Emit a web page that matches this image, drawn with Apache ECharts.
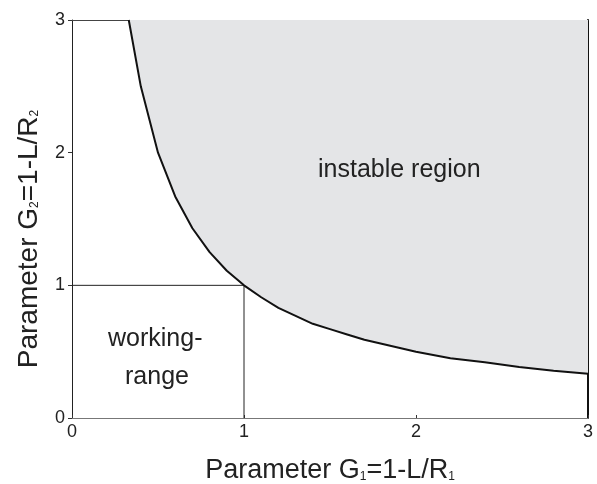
<!DOCTYPE html>
<html>
<head>
<meta charset="utf-8">
<script src="https://cdn.jsdelivr.net/npm/echarts@6/dist/echarts.min.js"></script>
<style>
  html, body { margin: 0; padding: 0; background: #fff; }
  #chart { width: 597px; height: 484px; }
</style>
</head>
<body>
<div id="chart"></div>
<script>
// stability boundary G1*G2 = 1
var g1 = [0.33, 0.4, 0.5, 0.6, 0.7, 0.8, 0.9, 1.0, 1.1, 1.2, 1.3, 1.4, 1.5, 1.6, 1.7, 1.8, 1.9, 2.0, 2.2, 2.4, 2.6, 2.8, 3.0];
var g2 = [3.0, 2.5, 2.0, 1.67, 1.43, 1.25, 1.11, 1.0, 0.91, 0.83, 0.77, 0.71, 0.67, 0.63, 0.59, 0.56, 0.53, 0.5, 0.45, 0.42, 0.385, 0.357, 0.333];
// working range box corner
var boxX = [0, 1, 1];
var boxY = [1, 1, 0];

var font = 'Liberation Sans, Arial, sans-serif';
var curve = g1.map(function (x, i) { return [x, g2[i]]; });
var box = boxX.map(function (x, i) { return [x, boxY[i]]; });

var chart = echarts.init(document.getElementById('chart'));
chart.setOption({
  animation: false,
  grid: { left: 72, right: 9, top: 20, bottom: 66, outerBoundsMode: 'none', containLabel: false },
  xAxis: [{
    type: 'value', min: 0, max: 3, interval: 1,
    axisLine: { lineStyle: { color: '#777', width: 1 } },
    axisTick: { inside: true, length: 3, lineStyle: { color: '#333' } },
    splitLine: { show: false },
    axisLabel: { color: '#222', fontSize: 18, fontFamily: font, margin: 5 },
    name: 'Parameter G{s|1}=1-L/R{s|1}',
    nameLocation: 'middle',
    nameGap: 39,
    nameTextStyle: {
      color: '#222', fontSize: 27, fontFamily: font,
      rich: { s: { fontSize: 12, fontFamily: font, color: '#222', padding: [12, 0, 0, 0] } }
    }
  }, {
    type: 'value', min: 0, max: 3, position: 'top',
    axisLine: { show: true, onZero: false, lineStyle: { color: '#444', width: 1 } },
    axisTick: { show: false }, axisLabel: { show: false }, splitLine: { show: false }
  }],
  yAxis: [{
    type: 'value', min: 0, max: 3, interval: 1,
    axisLine: { show: true, lineStyle: { color: '#222', width: 1 } },
    axisTick: { show: true, length: 4, lineStyle: { color: '#333' } },
    splitLine: { show: false },
    axisLabel: { color: '#222', fontSize: 18, fontFamily: font, margin: 7 },
    name: 'Parameter G{s|2}=1-L/R{s|2}',
    nameLocation: 'middle',
    nameGap: 29,
    nameTextStyle: {
      color: '#222', fontSize: 28, fontFamily: font, padding: [0, 40, 0, 0],
      rich: { s: { fontSize: 12, fontFamily: font, color: '#222', padding: [12, 0, 0, 0] } }
    }
  }, {
    type: 'value', min: 0, max: 3, position: 'right',
    axisLine: { show: true, onZero: false, lineStyle: { color: '#111', width: 2 } },
    axisTick: { show: false }, axisLabel: { show: false }, splitLine: { show: false }
  }],
  series: [{
    type: 'line',
    data: curve,
    symbol: 'none',
    lineStyle: { color: '#111', width: 2 },
    areaStyle: { origin: 'end', color: '#e4e5e7', opacity: 1 },
    z: 3
  }, {
    type: 'line',
    data: box,
    symbol: 'none',
    lineStyle: { color: '#222', width: 1 },
    z: 2
  }],
  graphic: [{
    type: 'text', left: 318, top: 158, z: 100,
    style: { text: 'instable region', font: '25px ' + font, fill: '#222' }
  }, {
    type: 'text', left: 108, top: 327, z: 100,
    style: { text: 'working-', font: '25px ' + font, fill: '#222' }
  }, {
    type: 'text', left: 125, top: 365, z: 100,
    style: { text: 'range', font: '25px ' + font, fill: '#222' }
  }]
});
</script>
</body>
</html>
